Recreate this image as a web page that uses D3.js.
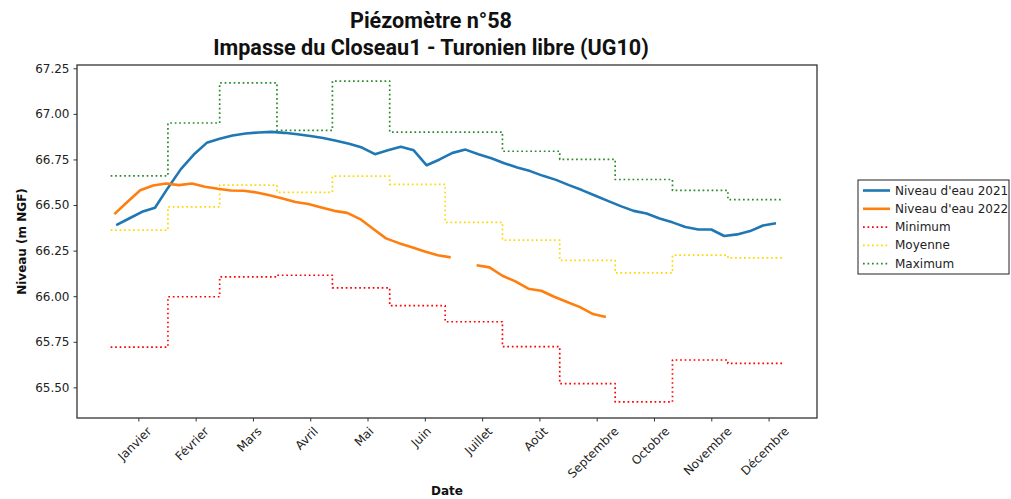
<!DOCTYPE html>
<html>
<head>
<meta charset="utf-8">
<script src="https://cdn.jsdelivr.net/npm/d3@7"></script>
<style>
  body { margin: 0; background: #fff; }
  svg { display: block; }
</style>
</head>
<body>
<div id="chart"></div>
<script>
// weekly levels, day index of first point (0 = 1 Jan)
var start2021 = 3, start2022 = 2;
var niveau2021 = [66.39, 66.426, 66.463, 66.485, 66.594, 66.697, 66.777, 66.841, 66.863, 66.881,
  66.892, 66.898, 66.901, 66.896, 66.888, 66.879, 66.868, 66.852, 66.836, 66.815,
  66.779, 66.80, 66.819, 66.80, 66.718, 66.75, 66.786, 66.804, 66.779, 66.757,
  66.729, 66.706, 66.686, 66.66, 66.638, 66.609, 66.582, 66.552, 66.523, 66.494,
  66.468, 66.454, 66.426, 66.405, 66.38, 66.366, 66.366, 66.33, 66.339, 66.357,
  66.388, 66.40];
var niveau2022 = [66.45, 66.517, 66.581, 66.607, 66.618, 66.609, 66.618, 66.60, 66.589, 66.58,
  66.578, 66.569, 66.554, 66.536, 66.517, 66.506, 66.487, 66.468, 66.457, 66.423,
  66.37, 66.317, 66.291, 66.269, 66.245, 66.225, 66.213, null, 66.17, 66.158,
  66.112, 66.081, 66.041, 66.03, 65.997, 65.968, 65.94, 65.902, 65.886];

// monthly statistics
var monthStarts = [0, 31, 59, 90, 120, 151, 181, 212, 243, 273, 304, 334];
var lastDay = 364;
var minimum = [65.721, 65.997, 66.106, 66.115, 66.046, 65.948, 65.86, 65.723, 65.52, 65.42, 65.65, 65.632];
var moyenne = [66.362, 66.49, 66.609, 66.569, 66.658, 66.613, 66.405, 66.307, 66.196, 66.128, 66.225, 66.21];
var maximum = [66.66, 66.95, 67.17, 66.91, 67.18, 66.90, 66.90, 66.795, 66.75, 66.64, 66.58, 66.53];

var mois = ['Janvier', 'Février', 'Mars', 'Avril', 'Mai', 'Juin', 'Juillet', 'Août',
  'Septembre', 'Octobre', 'Novembre', 'Décembre'];
var moisTicks = mois.map(function (m, i) { return 15 + 31 * i; });
var yTicks = [65.5, 65.75, 66.0, 66.25, 66.5, 66.75, 67.0, 67.25];

var width = 1011, height = 499;
var plotL = 77, plotR = 817, plotT = 65, plotB = 418;
var font = 'DejaVu Sans, sans-serif';

var svg = d3.select('#chart').append('svg')
  .attr('width', width)
  .attr('height', height);

var x = d3.scaleLinear().domain([-18.2, 382.2]).range([plotL, plotR]);
var y = d3.scaleLinear().domain([65.332, 67.268]).range([plotB, plotT]);

var toWeekly = function (vals, d0) {
  return vals.map(function (v, k) { return { day: d0 + 7 * k, v: v }; });
};
var toSteps = function (vals) {
  var pts = vals.map(function (v, i) { return { day: monthStarts[i], v: v }; });
  pts.push({ day: lastDay, v: vals[vals.length - 1] });
  return pts;
};

var series = [
  { name: 'Niveau d\'eau 2021', data: toWeekly(niveau2021, start2021), color: '#1f77b4', w: 2.6, dash: null, curve: d3.curveLinear },
  { name: 'Niveau d\'eau 2022', data: toWeekly(niveau2022, start2022), color: '#ff7f0e', w: 2.6, dash: null, curve: d3.curveLinear },
  { name: 'Minimum', data: toSteps(minimum), color: '#ff0000', w: 1.7, dash: '1.7,2.8', curve: d3.curveStepAfter },
  { name: 'Moyenne', data: toSteps(moyenne), color: '#ffd700', w: 1.7, dash: '1.7,2.8', curve: d3.curveStepAfter },
  { name: 'Maximum', data: toSteps(maximum), color: '#2a8a2a', w: 1.7, dash: '1.7,2.8', curve: d3.curveStepAfter }
];

// lines
var drawOrder = [2, 3, 4, 0, 1];
drawOrder.forEach(function (i) {
  var s = series[i];
  var line = d3.line()
    .defined(function (d) { return d.v !== null; })
    .x(function (d) { return x(d.day); })
    .y(function (d) { return y(d.v); })
    .curve(s.curve);
  svg.append('path')
    .datum(s.data)
    .attr('d', line)
    .attr('fill', 'none')
    .attr('stroke', s.color)
    .attr('stroke-width', s.w)
    .attr('stroke-dasharray', s.dash)
    .attr('stroke-linejoin', 'round');
});

// frame
svg.append('rect')
  .attr('x', plotL).attr('y', plotT)
  .attr('width', plotR - plotL).attr('height', plotB - plotT)
  .attr('fill', 'none')
  .attr('stroke', '#333')
  .attr('stroke-width', 1.3);

// y axis
var yAxis = svg.append('g')
  .attr('transform', 'translate(' + plotL + ',0)')
  .call(d3.axisLeft(y).tickValues(yTicks).tickFormat(d3.format('.2f')).tickSizeOuter(0).tickSize(3.5).tickPadding(4));
yAxis.select('.domain').remove();
yAxis.selectAll('line').attr('stroke', '#333');
yAxis.selectAll('text').attr('font-family', font).attr('font-size', 12).attr('fill', '#222');

// x axis
var xAxis = svg.append('g')
  .attr('transform', 'translate(0,' + plotB + ')')
  .call(d3.axisBottom(x).tickValues(moisTicks).tickFormat(function (d, i) { return mois[i]; }).tickSizeOuter(0).tickSize(3.5));
xAxis.select('.domain').remove();
xAxis.selectAll('line').attr('stroke', '#333');
xAxis.selectAll('text')
  .attr('font-family', font)
  .attr('font-size', 12)
  .attr('fill', '#222')
  .attr('dy', null)
  .attr('text-anchor', 'middle')
  .attr('dominant-baseline', 'central')
  .each(function () {
    var w = this.getComputedTextLength();
    var h = (w + 12) * Math.SQRT1_2;
    d3.select(this).attr('y', null)
      .attr('transform', 'translate(-4,' + (7 + h / 2) + ') rotate(-45)');
  });

// axis labels
svg.append('text')
  .attr('x', (plotL + plotR) / 2).attr('y', 495)
  .attr('text-anchor', 'middle')
  .attr('font-family', font).attr('font-size', 12).attr('font-weight', 'bold')
  .attr('fill', '#111')
  .text('Date');

svg.append('text')
  .attr('transform', 'translate(26,' + (plotT + plotB) / 2 + ') rotate(-90)')
  .attr('text-anchor', 'middle')
  .attr('font-family', font).attr('font-size', 12).attr('font-weight', 'bold')
  .attr('fill', '#111')
  .text('Niveau (m NGF)');

// title
var titles = ['Piézomètre n°58', 'Impasse du Closeau1 - Turonien libre (UG10)'];
svg.selectAll('.titre')
  .data(titles)
  .enter()
  .append('text')
  .attr('class', 'titre')
  .attr('x', 431)
  .attr('y', function (d, i) { return 28 + i * 27; })
  .attr('text-anchor', 'middle')
  .attr('font-family', 'Roboto, sans-serif')
  .attr('font-weight', 'bold')
  .attr('font-size', 21.6)
  .attr('fill', '#111')
  .text(function (d) { return d; });

// legend
var lg = svg.append('g').attr('transform', 'translate(858,180)');
lg.append('rect')
  .attr('width', 151).attr('height', 94)
  .attr('fill', '#fff')
  .attr('stroke', '#222')
  .attr('stroke-width', 1);
var items = lg.selectAll('.item')
  .data(series)
  .enter()
  .append('g')
  .attr('class', 'item')
  .attr('transform', function (d, i) { return 'translate(0,' + (10.5 + i * 18.3) + ')'; });
items.append('line')
  .attr('x1', 5).attr('x2', 32)
  .attr('stroke', function (d) { return d.color; })
  .attr('stroke-width', function (d) { return d.w; })
  .attr('stroke-dasharray', function (d) { return d.dash; });
items.append('text')
  .attr('x', 37)
  .attr('dominant-baseline', 'central')
  .attr('font-family', font).attr('font-size', 12)
  .attr('fill', '#222')
  .text(function (d) { return d.name; });
</script>
</body>
</html>
